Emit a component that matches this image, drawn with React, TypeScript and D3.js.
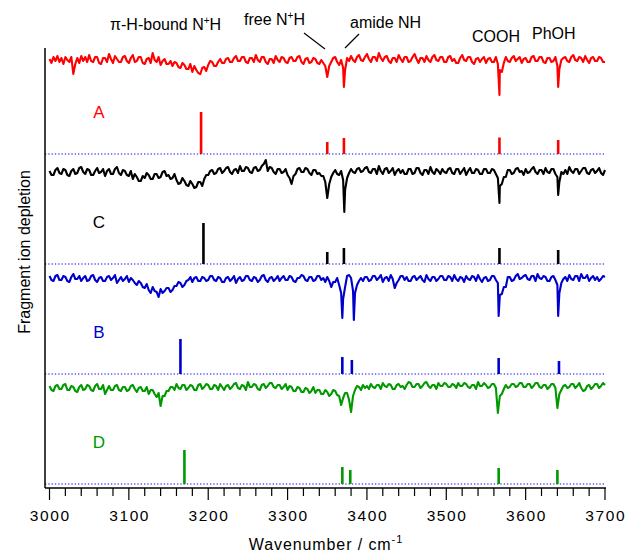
import React from "react";
import * as d3 from "d3";

// ---- data ----
const wnStart = 3000;
const wnStep = 2.5;
const xTicksMajor = [3000, 3100, 3200, 3300, 3400, 3500, 3600, 3700];

// trace values on a 2.5 cm-1 grid (relative depletion, arbitrary units), one row per 50 cm-1
const traceA = [
  1, -3, 3, -1, 4, -2, 2, -4, 3, 0, -2, 3, -14, -4, 2, -3, 4, -1, 3, -2,
  5, -1, -2, 3, 3, -3, -4, 2, 2, -2, 6, 1, -3, 4, 1, -2, -2, 3, 4, -1,
  -3, 2, 5, -2, -1, 3, 3, -3, -4, 1, 2, -3, 7, 0, -2, 3, -5, -1, 1, -4,
  -4, -1, -6, -2, -3, -7, -8, -3, -5, -9, -9, -4, -12, -6, -10, -13, -14, -8, -7, -11,
  -5, -1, -2, -6, -6, -2, 1, -3, -3, 1, 2, -2, -2, 2, 4, -1, -1, 3, 3, -2,
  -3, 2, 2, -2, 5, 0, -2, 3, 3, -2, -4, 1, 1, -3, 4, 0, -2, 3, 2, -2,
  -3, 2, 3, -1, -1, 3, 4, -2, -4, 1, 2, -3, -2, 2, 1, -3, -4, 0, -3, -6,
  -17, -6, -2, 2, 3, -2, -5, 0, -8, -10, 2, -1, 4, 0, -2, 3, 5, 0, -1, 3,
  6, 1, -2, 3, 3, -1, 7, 2, -1, 3, 4, -1, -3, 2, 2, -2, 5, 1, -2, 3,
  3, -2, -1, 3, 6, 1, -3, 2, 2, -2, 4, 0, -2, 3, 5, 0, -1, 3, 3, -2,
  -2, 3, 4, -1, 1, -3, -3, 2, 5, 0, -1, 3, 3, -2, -4, 1, 2, -2, 1, 3,
  -3, 1, 2, -2, -2, 3, -4, -10, -12, -3, 3, -1, -2, 2, 4, -1, 1, 3, -3, 1,
  2, -2, -2, 3, 4, -1, -1, 3, 3, -2, -3, 2, 2, -2, -1, 3, -6, -9, 0, 2,
  3, -1, -2, 3, 5, 0, -1, 3, 2, -2, 4, 0, -3, 2, 3, -1, -1, 3, 2, -2,
  -2,
];
const featA = [[3371, -27], [3567, -35], [3641, -27]];

const traceC = [
  1, -3, -3, 2, 4, -1, -2, 3, 2, -3, -4, 1, 3, -2, -1, 4, 5, 0, -2, 3,
  2, -3, -3, 1, 4, -1, 0, 3, -4, 1, 3, -2, -2, 3, 5, -1, -3, 2, 1, -3,
  -4, 1, -7, -2, -5, -9, -9, -4, -6, -1, -3, -7, -7, -2, -2, -6, -5, 0, 1, -4,
  -3, -7, -6, -2, -8, -12, -11, -6, -9, -13, -14, -9, -12, -16, -15, -10, -10, -14, -7, -3,
  -3, 1, 2, -2, -1, 3, 4, -1, 1, 4, 5, 0, -2, 2, 3, -1, 6, 1, 1, 5,
  4, 0, -1, 4, 5, 1, 2, 6, 8, 12, 1, 5, 4, 0, -2, 3, 3, -1, 0, 3,
  -3, -6, -12, -4, -2, 3, 4, 0, 0, 4, 3, -1, -3, 2, 2, -2, -1, -4, -4, -10,
  -26, -12, -5, -1, 2, -2, -3, 1, -8, -18, -6, -1, 3, 0, -1, 3, 4, 0, 1, 4,
  5, 0, -1, 3, 3, -2, 6, 1, -2, 3, 4, -1, 1, 4, -3, 1, 3, -1, 2, -2,
  -2, 3, 3, -2, -1, 4, 4, -1, -3, 2, 2, -2, 5, 0, -2, 3, 1, -2, 3, 0,
  -1, 3, 4, -1, -2, 3, 3, -2, 1, 4, -3, 1, 4, -1, -1, 3, 2, -2, -2, 3,
  3, -1, -1, 3, 2, -2, -6, -14, -12, -5, -5, 2, 2, -2, -1, 3, 4, 0, 1, -3,
  3, -1, 0, 3, 5, 0, -2, 2, 2, -2, 4, 0, -1, 3, 3, -2, -5, -10, 0, -2,
  2, -2, 5, 1, -1, 3, 3, -2, 1, 4, 4, -1, -2, 2, 3, -1, 1, 4, -1, -3,
  2,
];
const featC = [[3371.5, -40], [3567, -31], [3641, -23]];

const traceB = [
  3, -1, -2, 3, 4, -1, -1, 3, 2, -2, -3, 2, 5, 0, 0, 3, -2, 1, 3, -2,
  -1, 3, 4, -1, -3, 1, 2, -2, -2, 2, 3, -1, 1, 4, -4, -1, 2, -2, 0, 3,
  -3, 1, -1, -4, -6, -2, -4, -8, -9, -5, -11, -14, -8, -12, -13, -18, -10, -14, -12, -9,
  -9, -13, -11, -7, -7, -3, -4, -8, -6, -2, -1, 2, -3, 1, 2, -2, -2, 2, 1, -2,
  -1, 3, 3, -1, -2, 2, 1, -3, -3, 1, 2, -2, 0, 3, -4, 0, 2, -2, -1, 3,
  3, -1, -2, 2, 1, -3, -1, 3, 4, -1, -3, 1, 2, -2, 0, 3, -2, 1, 3, -1,
  -1, 3, 2, -2, -3, 1, 1, 4, 3, -1, -2, 2, 2, -2, -1, 3, 3, -1, 1, -3,
  2, -2, -8, -3, -3, 1, -6, -14, -20, -8, 3, 4, 1, -12, -14, -6, -2, 1, -2, 2,
  2, -2, -1, 3, 3, -1, 1, 4, -3, 1, 2, -2, 4, 0, -9, -4, -1, 3, 3, -1,
  2, -2, -2, 2, 3, -1, 1, 3, -1, -3, 4, 0, -2, 2, 2, -2, 0, 3, 3, -1,
  -1, 3, 2, -2, 4, 0, -2, 2, 1, -3, 3, 0, -1, 3, 2, -2, 4, 0, -3, 1,
  2, -2, -1, 3, 3, -1, -4, -16, -15, -8, -8, 2, 2, -2, -1, 3, 5, 0, 1, 3,
  4, 0, -1, 3, 3, -2, 5, 1, 0, 3, 2, -2, -2, 2, 3, -1, -6, -14, -4, 0,
  2, -2, 4, 0, -1, 3, 3, -2, 5, 1, 1, 4, -2, 1, 3, -1, 2, -2, 0, 3,
  2,
];
const featB = [[3369, -39], [3383.5, -41], [3566, -37], [3641, -37]];

const traceD = [
  2, -2, -3, 2, 3, -1, -1, 3, 4, -2, -2, 2, 1, -3, -4, 1, 3, -2, -1, 3,
  2, -2, -3, 2, 4, -1, -1, 3, -6, -2, 2, -2, -2, 2, 3, -2, -3, 1, 1, -3,
  -2, 2, 3, -1, -4, 0, 1, -3, -3, 1, -6, -2, -2, -6, -9, -5, -18, -8, -8, -3,
  -3, 1, 1, -2, 4, 0, -1, 3, 3, -2, 0, 3, 2, -2, -2, 3, 4, -1, 1, 4,
  3, -1, -1, 3, 2, -2, 4, 1, -2, 2, 3, -1, 1, 4, 5, 0, -1, 3, 2, -2,
  6, 1, 1, 4, 3, -1, -2, 3, 4, 0, 2, 5, 5, 1, 0, 3, 3, -1, 1, 4,
  -2, 2, 1, -3, -3, 1, 0, -4, -4, 0, -1, -5, -3, 1, -5, -2, -2, -6, -6, -2,
  -4, -8, -6, -2, -3, -7, -8, -17, -10, -5, -5, -12, -24, -8, -2, 2, 1, -2, 3, 0,
  2, -1, 4, 1, 0, 3, 3, -1, 5, 2, 1, 4, 3, -1, -1, 3, 4, 1, 2, -1,
  3, 6, 5, 1, 1, 4, 4, 0, 2, 5, 6, 2, 0, 3, 3, -1, 5, 2, 2, 5,
  4, 1, 1, 4, 3, 0, 5, 2, 2, 5, 4, 1, 0, 3, 3, -1, 6, 2, 2, 5,
  3, 0, 1, 4, 4, 0, -25, -8, -6, -1, 3, 0, 1, 4, 4, 1, 2, 5, 5, 1,
  1, 4, 4, 0, 2, 5, 5, 1, 0, 3, 3, -1, 1, 4, 4, 0, -20, -6, -2, 2,
  3, 0, 1, 4, 4, 0, 2, 5, 0, -3, -2, 2, 3, -1, 1, 4, 4, 0, 2, 5,
  3,
];
const featD: number[][] = [];

// stick spectra: [wavenumber, intensity]
const sticksA = [[3191, 42], [3350, 12], [3371, 16], [3567, 16.5], [3641, 14]];
const sticksC = [[3194, 41], [3350, 12], [3371, 16], [3567, 16], [3641, 14]];
const sticksB = [[3165, 35], [3369, 17], [3381, 14], [3566, 16], [3642, 13]];
const sticksD = [[3170, 34], [3369, 17], [3379, 14], [3566, 16], [3640, 14]];

const panelNames = ["A", "C", "B", "D"];
const panelBase = [330, 220, 110, 0];
const traceLevel = [94, 92, 95, 96];
const panelColors = ["#ff0000", "#000000", "#0000cc", "#009900"];
const panelTraces = [traceA, traceC, traceB, traceD];
const panelFeats = [featA, featC, featB, featD];
const panelSticks = [sticksA, sticksC, sticksB, sticksD];

const FONT = "'Liberation Sans', Arial, Helvetica, sans-serif";

export default function App() {
  const x = d3.scaleLinear().domain([3000, 3700]).range([49.5, 605]);
  const y = d3.scaleLinear().domain([0, 440]).range([484, 44]);
  const minorTicks = d3.range(3000, 3701, 20);
  const line = d3
    .line<number[]>()
    .x((d) => x(d[0]))
    .y((d) => y(d[1]));

  const series = panelTraces.map((vals, k) => {
    const pts = vals.map((v, i) => [wnStart + i * wnStep, v]);
    const all = pts.concat(panelFeats[k]).sort((a, b) => a[0] - b[0]);
    return all.map((p) => [p[0], p[1] + panelBase[k] + traceLevel[k]]);
  });

  return (
    <svg width={627} height={554} style={{ display: "block", position: "absolute", left: 0, top: 0 }} fontFamily={FONT}>
      <rect width={627} height={554} fill="#fff" />
      {/* baselines */}
      {panelBase.map((b, k) => (
        <line key={"bl" + k} x1={45} x2={605} y1={y(b)} y2={y(b)} stroke="#5555ff" strokeWidth={1.3} strokeDasharray="1.3 2" />
      ))}
      {/* sticks */}
      {panelSticks.map((st, k) =>
        st.map((s, i) => (
          <line key={"s" + k + "_" + i} x1={x(s[0])} x2={x(s[0])} y1={y(panelBase[k])} y2={y(panelBase[k] + s[1])} stroke={panelColors[k]} strokeWidth={2.6} />
        ))
      )}
      {/* traces */}
      {series.map((pts, k) => (
        <path key={"t" + k} d={line(pts) || ""} fill="none" stroke={panelColors[k]} strokeWidth={2.1} strokeLinejoin="round" />
      ))}
      {/* panel labels */}
      {panelNames.map((n, k) => (
        <text key={"n" + k} x={99} y={y(panelBase[k] + 36)} textAnchor="middle" fontSize={17} fill={panelColors[k]}>
          {n}
        </text>
      ))}
      {/* axes */}
      <line x1={45} x2={45} y1={48} y2={488} stroke="#000" strokeWidth={1.5} />
      <line x1={45} x2={606} y1={488} y2={488} stroke="#000" strokeWidth={1.5} />
      {minorTicks.map((t) => (
        <line key={"mt" + t} x1={x(t)} x2={x(t)} y1={488} y2={t % 100 === 0 ? 500 : 496} stroke="#000" strokeWidth={1.2} />
      ))}
      {xTicksMajor.map((t) => (
        <text key={"tl" + t} x={x(t) + 0.8} y={521} textAnchor="middle" fontSize={15.5} letterSpacing={1.6} fill="#000">
          {t}
        </text>
      ))}
      <text x={326} y={550} textAnchor="middle" fontSize={16} letterSpacing={0.9} fill="#000">
        Wavenumber / cm<tspan dy={-7} fontSize={11}>-1</tspan>
      </text>
      <text transform="translate(30,252) rotate(-90)" textAnchor="middle" fontSize={16} fill="#000">
        Fragment ion depletion
      </text>
      {/* annotations */}
      <text x={110} y={30} fontSize={16} fill="#000">
        π-H-bound N<tspan dy={-6} fontSize={10}>+</tspan><tspan dy={6}>H</tspan>
      </text>
      <text x={244} y={25} fontSize={16} fill="#000">
        free N<tspan dy={-6} fontSize={10}>+</tspan><tspan dy={6}>H</tspan>
      </text>
      <line x1={304} y1={33} x2={325} y2={49} stroke="#000" strokeWidth={1.2} />
      <text x={350} y={28} fontSize={16} fill="#000">amide NH</text>
      <line x1={359} y1={34} x2={345} y2={48} stroke="#000" strokeWidth={1.2} />
      <text x={472} y={42} fontSize={16} fill="#000">COOH</text>
      <text x={532} y={39} fontSize={16} fill="#000">PhOH</text>
    </svg>
  );
}
